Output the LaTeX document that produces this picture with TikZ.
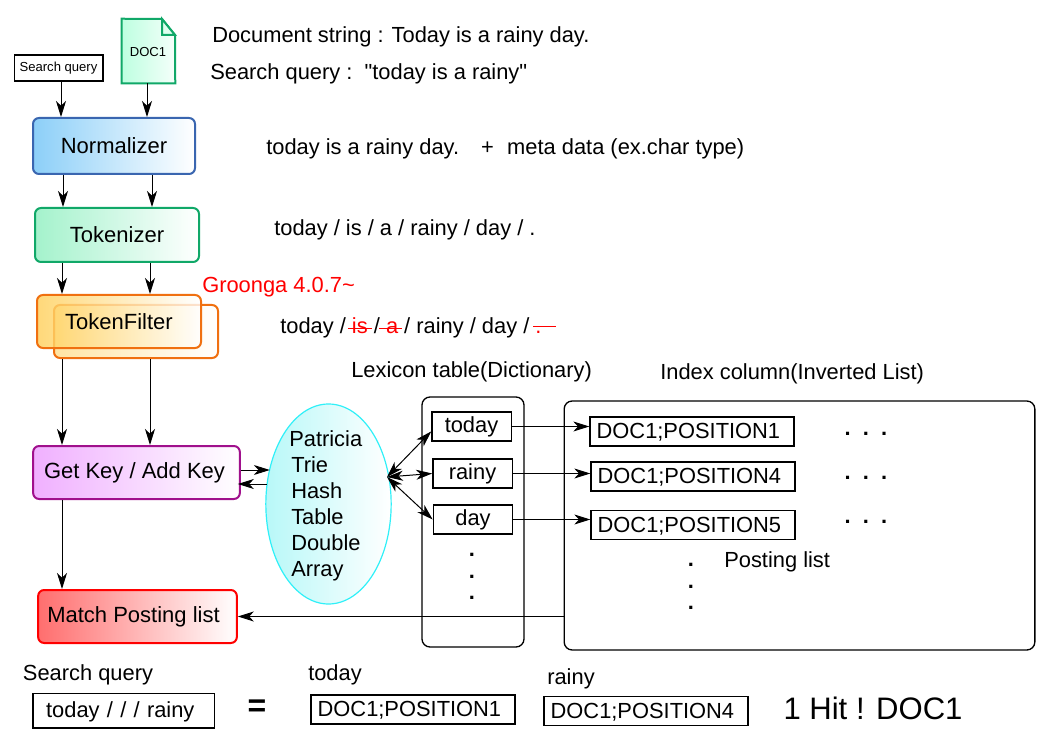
\documentclass[tikz,border=0pt]{standalone}
\usepackage{fontspec}
\setmainfont{Liberation Sans}[Ligatures=TeXOff]
\usepackage{tikz}
\usetikzlibrary{arrows.meta,shapes.geometric,calc}
\definecolor{normline}{HTML}{3A66B0}
\definecolor{normfill}{HTML}{8CCFF8}
\definecolor{tokline}{HTML}{10A868}
\definecolor{tokfill}{HTML}{A4F2CC}
\definecolor{filtline}{HTML}{F07010}
\definecolor{filtfill}{HTML}{FFCF58}
\definecolor{keyline}{HTML}{A0108C}
\definecolor{keyfill}{HTML}{F0B0FF}
\definecolor{matchfill}{HTML}{FF6E6E}
\definecolor{docfill}{HTML}{BDFFE0}
\definecolor{trieline}{HTML}{30F0F8}
\definecolor{triefill}{HTML}{B8F8F8}
\begin{document}
\begin{tikzpicture}[x=0.75pt,y=-0.75pt]
\tikzset{proc/.style = {shape=rectangle,draw,rounded corners=4.5pt,line width=1.5pt,inner sep=0pt,right color=white,font=\fontsize{16.5}{20}\selectfont}}
\tikzset{cell/.style = {shape=rectangle,draw,line width=1pt,inner ysep=0pt,inner xsep=5pt,minimum height=21.75pt,text width=143pt,text height=13pt,text depth=2.5pt,font=\fontsize{16.4}{20}\selectfont}}
\tikzset{word/.style = {shape=rectangle,draw,line width=1pt,inner sep=0pt,minimum height=21.75pt,minimum width=59.5pt,font=\fontsize{16.4}{20}\selectfont}}
\tikzset{frame/.style = {shape=rectangle,draw,line width=1pt,rounded corners=6pt,inner sep=0pt}}
\tikzset{txt/.style = {inner sep=0pt,font=\fontsize{16.4}{20}\selectfont}}
\tikzset{edge/.style = {-{Stealth[length=12pt,width=7.5pt,inset=3.5pt]},line width=0.75pt}}
\tikzset{both/.style = {{Stealth[length=12pt,width=7.5pt,inset=3.5pt]}-{Stealth[length=12pt,width=7.5pt,inset=3.5pt]},line width=0.75pt}}
\useasboundingbox (0,0) rectangle (1053,745);
% left column
\node[shape=rectangle,draw,line width=1pt,inner sep=0pt,minimum width=66.5pt,minimum height=19.5pt,font=\fontsize{9.8}{11}\selectfont] (query) at (58.5,68) {Search query};
\node[inner sep=0pt,minimum width=39.75pt,minimum height=48pt] (doc) at (148.5,51) {};
\draw[tokline,line width=1.5pt,left color=docfill,right color=white!85!docfill] (doc.north west) -- (162,19) -- (175,35) -- (doc.south east) -- (doc.south west) -- cycle;
\draw[tokline,line width=1.5pt,fill=docfill!50] (162,19) -- (162,35) -- (175,35) -- cycle;
\node[txt,font=\fontsize{9.8}{11}\selectfont] (doclabel) at (148,52) {DOC1};
\node[proc,draw=normline,left color=normfill,minimum width=121.5pt,minimum height=42pt] (norm) at (114,146) {Normalizer};
\node[proc,draw=tokline,left color=tokfill,minimum width=123pt,minimum height=40.5pt] (tok) at (117,235) {Tokenizer};
\node[proc,draw=filtline,left color=filtfill,minimum width=123pt,minimum height=39.75pt,fill opacity=0.55] (filtb) at (136,331.5) {};
\node[proc,draw=filtline,left color=filtfill,minimum width=123pt,minimum height=39.75pt,fill opacity=0.8,text opacity=1] (filta) at (119,321.5) {TokenFilter};
\node[proc,draw=keyline,left color=keyfill,minimum width=155pt,minimum height=39.75pt] (key) at (136.5,472.5) {Get Key / Add Key\hspace*{3pt}};
\node[proc,draw=red,left color=matchfill,minimum width=149pt,minimum height=39.75pt] (match) at (137.5,616.5) {Match Posting list\hspace*{6pt}};
% tables
\node[shape=ellipse,draw=trieline,line width=0.9pt,left color=triefill,right color=white,inner sep=0pt,minimum width=94pt,minimum height=150pt] (trie) at (328.5,504) {};
\node[txt,anchor=west,align=left,font=\fontsize{16.4}{19.5}\selectfont] (trielabel) at (291,505.5) {\hspace*{-1.5pt}Patricia\\Trie\\Hash\\Table\\Double\\Array};
\node[frame,minimum width=76.5pt,minimum height=187.5pt] (lexicon) at (473,522) {};
\node[frame,minimum width=353pt,minimum height=186.75pt] (index) at (799.5,525.5) {};
\node[word] (today) at (471.5,426.5) {today};
\node[word] (rainy) at (472.5,473.5) {rainy};
\node[word] (day) at (473,519.5) {day};
\node[cell] (posa) at (692,431.5) {DOC1;POSITION1};
\node[cell] (posb) at (693,476.5) {DOC1;POSITION4};
\node[cell] (posc) at (693,525) {DOC1;POSITION5};
% bottom row
\node[cell,text width=116pt,inner xsep=10pt,minimum height=26pt] (result) at (123.5,710.5) {today / / / rainy};
\node[cell] (hita) at (413,709.5) {DOC1;POSITION1};
\node[cell] (hitb) at (646,711) {DOC1;POSITION4};
\node[txt] (resultlabel) at (88,675) {Search query};
\node[txt] (hitalabel) at (335,675) {today};
\node[txt] (hitblabel) at (571,679) {rainy};
\node[txt,font=\bfseries\fontsize{24}{28}\selectfont] (equal) at (257,708) {=};
\node[txt,font=\fontsize{23.3}{28}\selectfont] (hit) at (873,708) {1 Hit ! DOC1};
% text
\node[txt,anchor=west] (line1) at (212,37) {Document string : Today is a rainy day.};
\node[txt,anchor=west] (line2) at (210,74) {Search query :\ \ "today is a rainy"};
\node[txt,anchor=west] (line3) at (266,149) {today is a rainy day.\hspace*{16.5pt}+\hspace*{10pt}meta data (ex.char type)};
\node[txt,anchor=west] (line4) at (274,230) {today / is / a / rainy / day / .};
\node[txt,anchor=west,text=red] (groonga) at (202,287) {Groonga 4.0.7\textasciitilde};
\node[txt,anchor=west] (line5) at (280,328) {today / \textcolor{red}{is} / \textcolor{red}{a} / rainy / day / \textcolor{red}{.}};
\draw[red,line width=0.7pt] (348,328) -- (372,328);
\draw[red,line width=0.7pt] (379,328) -- (402,328);
\draw[red,line width=0.7pt] (533,326) -- (556,326);
\node[txt,anchor=west] (lexlabel) at (351,372) {Lexicon table(Dictionary)};
\node[txt,anchor=west] (indexlabel) at (660,374) {Index column(Inverted List)};
\node[txt,anchor=west] (postlabel) at (724,562) {Posting list};
% dots
\foreach \y in {434,478,522}
  \node[txt,font=\bfseries\fontsize{16.4}{20}\selectfont] at (866,\y) {.\ \ .\ \ .};
\foreach \y in {555,577,598}
  \node[txt,font=\bfseries\fontsize{16.4}{20}\selectfont] at (472,\y) {.};
\foreach \y in {565,587,608}
  \node[txt,font=\bfseries\fontsize{16.4}{20}\selectfont] at (691,\y) {.};
% columns for the parallel edges
\coordinate (hub) at (387,477);
\coordinate (qa) at (61,0);
\coordinate (qb) at (147,0);
\coordinate (ca) at (63,0);
\coordinate (cb) at (152,0);
\coordinate (cc) at (62,0);
\coordinate (cd) at (150,0);
% edges
\draw[edge] (qa |- query.south) to (qa |- norm.north);
\draw[edge] (qb |- doc.south) to (qb |- norm.north);
\draw[edge] (ca |- norm.south) to (ca |- tok.north);
\draw[edge] (cb |- norm.south) to (cb |- tok.north);
\draw[edge] (cc |- tok.south) to (cc |- filta.north);
\draw[edge] (cd |- tok.south) to (cd |- filta.north);
\draw[edge] (cc |- filtb.south) to (cc |- key.north);
\draw[edge] (cd |- filtb.south) to (cd |- key.north);
\draw[edge] (key.south -| cc) to (match.north -| cc);
\draw[edge] ($(key.east)+(0,-2.5)$) to ($(key.east)+(29,-2.5)$);
\draw[edge] ($(key.east)+(26,11.5)$) to ($(key.east)+(-3,11.5)$);
\draw[both] (hub) to (today.187);
\draw[both] (hub) to (rainy.west);
\draw[both] (hub) to (day.west);
\draw[edge] (today.east) to (today.east -| posa.west);
\draw[edge] (rainy.east) to (rainy.east -| posb.west);
\draw[edge] (day.east) to (day.east -| posc.west);
\draw[edge] (index.west |- match.east) to (match.east);
\end{tikzpicture}
\end{document}
